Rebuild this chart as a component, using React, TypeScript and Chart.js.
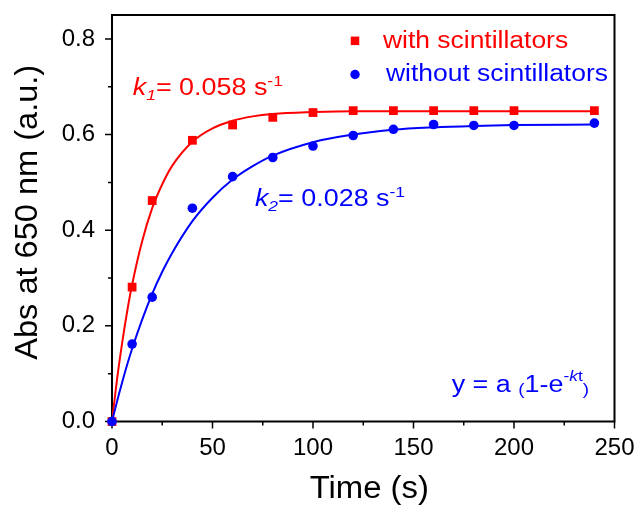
import React, { useEffect, useRef } from "react";
import { Chart, registerables } from "chart.js";

Chart.register(...registerables);

// ---- data ----
const TIME = [0, 10, 20, 40, 60, 80, 100, 120, 140, 160, 180, 200, 240];
const WITH_SC = [0, 0.281, 0.462, 0.588, 0.62, 0.636, 0.646, 0.65, 0.65, 0.65, 0.65, 0.65, 0.65];
const WITHOUT_SC = [0, 0.162, 0.26, 0.446, 0.512, 0.552, 0.576, 0.598, 0.611, 0.621, 0.619, 0.619, 0.624];

const FIT_TIME = [0, 2.5, 5, 7.5, 10, 15, 20, 25, 30, 40, 50, 60, 70, 80, 100, 120, 140, 160, 180, 200, 240];
const FIT_WITH = [0, 0.088, 0.163, 0.229, 0.286, 0.377, 0.446, 0.496, 0.535, 0.585, 0.613, 0.629, 0.638, 0.643, 0.647, 0.649, 0.649, 0.649, 0.649, 0.649, 0.649];
const FIT_WITHOUT = [0, 0.042, 0.081, 0.118, 0.152, 0.213, 0.267, 0.313, 0.353, 0.419, 0.468, 0.506, 0.534, 0.556, 0.584, 0.6, 0.61, 0.615, 0.618, 0.62, 0.621];

const X_TICKS = [0, 50, 100, 150, 200, 250];
const X_MINOR = [25, 75, 125, 175, 225];
const Y_TICKS = [0, 0.2, 0.4, 0.6, 0.8];
const Y_MINOR = [0.1, 0.3, 0.5, 0.7];

const X_TITLE = "Time (s)";
const Y_TITLE = "Abs at 650 nm (a.u.)";
const LEGEND_WITH = "with scintillators";
const LEGEND_WITHOUT = "without scintillators";

const RED = "#ff0000";
const BLUE = "#0000ff";
const FONT = '"Liberation Sans", Arial, sans-serif';

type Seg = { t: string; italic?: boolean; scale?: number; dy?: number };

function drawRich(ctx: CanvasRenderingContext2D, x: number, y: number, segs: Seg[], size: number, sx: number, color: string) {
  ctx.save();
  ctx.translate(x, y);
  ctx.scale(sx, 1);
  ctx.fillStyle = color;
  ctx.textAlign = "left";
  ctx.textBaseline = "alphabetic";
  let cx = 0;
  for (const s of segs) {
    const fs = size * (s.scale ?? 1);
    ctx.font = `${s.italic ? "italic " : ""}${fs}px ${FONT}`;
    ctx.fillText(s.t, cx, (s.dy ?? 0) * size);
    cx += ctx.measureText(s.t).width;
  }
  ctx.restore();
}

function drawFrame(chart: any) {
  const ctx: CanvasRenderingContext2D = chart.ctx;
  const a = chart.chartArea;
  const xs = chart.scales.x;
  const ys = chart.scales.y;
  const X = (v: number) => xs.getPixelForValue(v);
  const Y = (v: number) => ys.getPixelForValue(v);
  const L = a.left, R = a.right, T = a.top, B = a.bottom;

  ctx.save();
  ctx.globalAlpha = 1;
  ctx.setLineDash([]);
  ctx.strokeStyle = "#000000";
  ctx.lineWidth = 2;
  ctx.beginPath();
  ctx.moveTo(L, T);
  ctx.lineTo(R, T);
  ctx.lineTo(R, B);
  ctx.lineTo(L, B);
  ctx.closePath();
  ctx.stroke();

  ctx.lineWidth = 1.5;
  ctx.beginPath();
  for (const v of X_TICKS) {
    const px = X(v);
    ctx.moveTo(px, B);
    ctx.lineTo(px, B + 7);
  }
  for (const v of X_MINOR) {
    const px = X(v);
    ctx.moveTo(px, B);
    ctx.lineTo(px, B + 4);
  }
  for (const v of Y_TICKS) {
    const py = Y(v);
    ctx.moveTo(L, py);
    ctx.lineTo(L - 7, py);
  }
  for (const v of Y_MINOR) {
    const py = Y(v);
    ctx.moveTo(L, py);
    ctx.lineTo(L - 4, py);
  }
  ctx.stroke();
  ctx.restore();
}

const decorPlugin = {
  id: "decor",
  beforeDatasetsDraw(chart: any) {
    drawFrame(chart);
  },
  afterDraw(chart: any) {
    const ctx: CanvasRenderingContext2D = chart.ctx;
    const a = chart.chartArea;
    const xs = chart.scales.x;
    const ys = chart.scales.y;
    const X = (v: number) => xs.getPixelForValue(v);
    const Y = (v: number) => ys.getPixelForValue(v);
    const L = a.left, R = a.right, T = a.top, B = a.bottom;

    // axis titles
    ctx.save();
    ctx.fillStyle = "#000";
    ctx.font = `31px ${FONT}`;
    ctx.textAlign = "center";
    ctx.textBaseline = "alphabetic";
    ctx.save();
    ctx.translate((L + R) / 2 + 6, 498);
    ctx.scale(1.06, 1);
    ctx.fillText(X_TITLE, 0, 0);
    ctx.restore();
    ctx.save();
    ctx.translate(37, (T + B) / 2 - 6);
    ctx.rotate(-Math.PI / 2);
    ctx.scale(1.05, 1);
    ctx.fillText(Y_TITLE, 0, 0);
    ctx.restore();
    ctx.restore();

    // legend
    ctx.save();
    ctx.fillStyle = RED;
    const rx = X(120.9), ry = Y(0.796);
    ctx.fillRect(rx - 4.25, ry - 4.25, 8.5, 8.5);
    ctx.fillStyle = BLUE;
    ctx.beginPath();
    ctx.arc(X(120.9), Y(0.7255), 4.7, 0, Math.PI * 2);
    ctx.fill();
    ctx.restore();
    drawRich(ctx, X(134.8), Y(0.781), [{ t: LEGEND_WITH }], 23, 1.15, RED);
    drawRich(ctx, X(136.3), Y(0.713), [{ t: LEGEND_WITHOUT }], 23, 1.15, BLUE);

    // annotations
    drawRich(
      ctx, X(10.3), Y(0.682),
      [
        { t: "k", italic: true },
        { t: "1", italic: true, scale: 0.65, dy: 0.22 },
        { t: "= 0.058 s" },
        { t: "-1", scale: 0.65, dy: -0.42 },
      ],
      23, 1.17, RED
    );
    drawRich(
      ctx, X(71.1), Y(0.45),
      [
        { t: "k", italic: true },
        { t: "2", italic: true, scale: 0.65, dy: 0.22 },
        { t: "= 0.028 s" },
        { t: "-1", scale: 0.65, dy: -0.42 },
      ],
      23, 1.17, BLUE
    );
    drawRich(
      ctx, X(169), Y(0.062),
      [
        { t: "y = a " },
        { t: "(", scale: 0.7, dy: 0.12 },
        { t: "1-e" },
        { t: "-", scale: 0.65, dy: -0.45 },
        { t: "k", italic: true, scale: 0.65, dy: -0.45 },
        { t: "t", scale: 0.65, dy: -0.45 },
        { t: ")", scale: 0.7, dy: 0.12 },
      ],
      23, 1.17, BLUE
    );
  },
};

export default function App() {
  const ref = useRef<HTMLCanvasElement | null>(null);
  useEffect(() => {
    if (!ref.current) return;
    const pts = (xs: number[], ys: number[]) => xs.map((x, i) => ({ x, y: ys[i] }));
    const chart = new Chart(ref.current, {
      type: "scatter",
      data: {
        datasets: [
          {
            label: LEGEND_WITHOUT,
            data: pts(TIME, WITHOUT_SC),
            backgroundColor: BLUE,
            borderColor: BLUE,
            pointStyle: "circle",
            pointRadius: 4.8,
            borderWidth: 0,
            showLine: false,
            clip: false,
          } as any,
          {
            label: LEGEND_WITH,
            data: pts(TIME, WITH_SC),
            backgroundColor: RED,
            borderColor: RED,
            pointStyle: "rect",
            pointRadius: 6.2,
            borderWidth: 0,
            showLine: false,
            clip: false,
          } as any,
          {
            label: "fit without",
            data: pts(FIT_TIME, FIT_WITHOUT),
            borderColor: BLUE,
            borderWidth: 2,
            pointRadius: 0,
            showLine: true,
            cubicInterpolationMode: "monotone",
            fill: false,
          } as any,
          {
            label: "fit with",
            data: pts(FIT_TIME, FIT_WITH),
            borderColor: RED,
            borderWidth: 2,
            pointRadius: 0,
            showLine: true,
            cubicInterpolationMode: "monotone",
            fill: false,
          } as any,
        ],
      },
      options: {
        animation: false,
        responsive: false,
        events: [],
        layout: { padding: { top: 15, right: 23.5, left: 0, bottom: 0 } },
        plugins: { legend: { display: false }, tooltip: { enabled: false } },
        scales: {
          x: {
            type: "linear",
            min: 0,
            max: 250,
            border: { display: false },
            grid: { display: false, drawTicks: false },
            afterBuildTicks: (s: any) => {
              s.ticks = X_TICKS.map((v) => ({ value: v }));
            },
            afterFit: (s: any) => {
              s.height = 84.5;
              s.paddingLeft = 0;
              s.paddingRight = 0;
            },
            ticks: {
              padding: 12,
              color: "#000",
              font: { family: FONT, size: 24 },
              callback: (v: any) => String(v),
            },
          },
          y: {
            type: "linear",
            min: 0,
            max: 0.85,
            border: { display: false },
            grid: { display: false, drawTicks: false },
            afterBuildTicks: (s: any) => {
              s.ticks = Y_TICKS.map((v) => ({ value: v }));
            },
            afterFit: (s: any) => {
              s.width = 112;
              s.paddingTop = 0;
              s.paddingBottom = 0;
            },
            ticks: {
              padding: 17,
              color: "#000",
              font: { family: FONT, size: 24 },
              callback: (v: any) => Number(v).toFixed(1),
            },
          },
        },
      } as any,
      plugins: [decorPlugin],
    });
    return () => chart.destroy();
  }, []);
  return (
    <div style={{ position: "fixed", left: 0, top: 0, width: 638, height: 506, background: "#fff" }}>
      <canvas ref={ref} width={638} height={506} style={{ display: "block" }} />
    </div>
  );
}
